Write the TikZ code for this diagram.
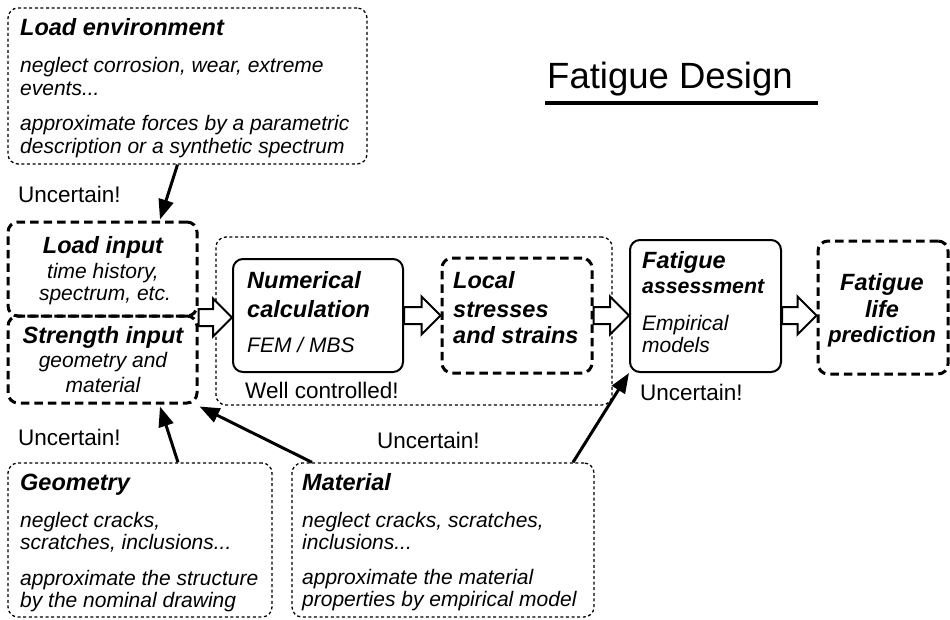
\documentclass[tikz,border=0pt]{standalone}
\usepackage{fontspec}
\setmainfont{Liberation Sans}
\usetikzlibrary{arrows.meta,calc}
\newcommand\harrow[2]{%
  \draw[harr] let \p1=#1, \p2=#2 in
    (\x1,\y1+8.5pt) -- (\x2-19pt,\y1+8.5pt) -- (\x2-19pt,\y1+19pt) -- (\x2,\y1)
    -- (\x2-19pt,\y1-19pt) -- (\x2-19pt,\y1-8.5pt) -- (\x1,\y1-8.5pt) -- cycle;}
\begin{document}
\begin{tikzpicture}[x=1pt,y=-1pt,
  dotbox/.style={draw, line width=1.3pt, dash pattern=on 3pt off 2.6pt, rounded corners=10pt, inner sep=0, rectangle},
  dashbox/.style={draw, line width=3pt, dash pattern=on 8.5pt off 5pt, rounded corners=10pt, inner sep=0, rectangle},
  solbox/.style={draw, line width=2pt, rounded corners=10pt, inner sep=0, rectangle},
  ttl/.style={font=\fontsize{23.5}{28}\selectfont\bfseries\itshape, inner sep=0, anchor=base west},
  ttlc/.style={ttl, anchor=base},
  bod/.style={font=\fontsize{21}{25}\selectfont\itshape, inner sep=0, anchor=base west},
  bodc/.style={bod, anchor=base},
  lab/.style={font=\fontsize{22.5}{27}\selectfont, inner sep=0, anchor=base west},
  harr/.style={draw, line width=2pt, fill=white, line join=miter},
  thinarr/.style={line width=3pt, -{Triangle[length=20pt,width=15pt]}, shorten >=0pt}
]
\useasboundingbox (0,0) rectangle (950,619);

% title
\node[font=\fontsize{36.5}{40}\selectfont, inner sep=0, anchor=base west] (title) at (547,88) {Fatigue Design};
\draw[line width=4pt] ([xshift=-2pt,yshift=-15pt]title.base west) -- ++(273,0);

% boxes
\node[dotbox, minimum width=359pt, minimum height=156pt] (env) at (187.5,86) {};
\node[dashbox, minimum width=189pt, minimum height=94pt] (input) at (102.5,269) {};
\node[dashbox, minimum width=189pt, minimum height=87pt] (strength) at (102.5,359.5) {};
\node[dotbox, minimum width=396pt, minimum height=168pt] (well) at (414,321) {};
\node[solbox, minimum width=170pt, minimum height=113pt] (num) at (318,315.5) {};
\node[dashbox, minimum width=150pt, minimum height=115pt] (local) at (517,315.5) {};
\node[solbox, minimum width=151pt, minimum height=132pt] (assess) at (705.5,306) {};
\node[dashbox, minimum width=130pt, minimum height=133pt] (life) at (883,307.5) {};
\node[dotbox, minimum width=264pt, minimum height=154pt] (geo) at (140,540) {};
\node[dotbox, minimum width=302pt, minimum height=154pt] (mat) at (443,540) {};

% load environment texts
\node[ttl] (e0) at (20,35) {Load environment};
\node[bod] (e1) at (20,72) {neglect corrosion, wear, extreme};
\node[bod] (e2) at (20,95) {events...};
\node[bod] (e3) at (20,130) {approximate forces by a parametric};
\node[bod] (e4) at (20,153) {description or a synthetic spectrum};
\node[lab] (u1) at (18,202) {Uncertain!};

% input texts
\node[ttlc] (i0) at (103,253) {Load input};
\node[bodc] (i1) at (103,278) {time history,};
\node[bodc] (i2) at (105,300) {spectrum, etc.};
\node[ttlc] (s0) at (103,343) {Strength input};
\node[bodc] (s1) at (103,367) {geometry and};
\node[bodc] (s2) at (103,392) {material};
\node[lab] (u2) at (18,445) {Uncertain!};

% numerical
\node[ttl] (n0) at (247,288) {Numerical};
\node[ttl] (n1) at (247,317) {calculation};
\node[bod] (n2) at (247,352) {FEM / MBS};
\node[lab] (wc) at (245,398) {Well controlled!};

% local
\node[ttl] (l0) at (453,288) {Local};
\node[ttl] (l1) at (453,317) {stresses};
\node[ttl] (l2) at (453,343) {and strains};

% assessment
\node[ttl] (a0) at (642,268) {Fatigue};
\node[ttl, font=\fontsize{21.3}{25}\selectfont\bfseries\itshape] (a1) at (642,293) {assessment};
\node[bod] (a2) at (642,330) {Empirical};
\node[bod] (a3) at (642,352) {models};
\node[lab] (u3) at (640,400) {Uncertain!};

% life
\node[ttlc] (f0) at (882,290) {Fatigue};
\node[ttlc] (f1) at (882,317) {life};
\node[ttlc, font=\fontsize{22.3}{26}\selectfont\bfseries\itshape] (f2) at (882,342) {prediction};

% geometry
\node[ttl] (g0) at (20,490) {Geometry};
\node[bod] (g1) at (20,527) {neglect cracks,};
\node[bod] (g2) at (20,549) {scratches, inclusions...};
\node[bod] (g3) at (20,585) {approximate the structure};
\node[bod] (g4) at (20,607) {by the nominal drawing};

% material
\node[ttl] (m0) at (302,490) {Material};
\node[bod] (m1) at (302,527) {neglect cracks, scratches,};
\node[bod] (m2) at (302,549) {inclusions...};
\node[bod] (m3) at (302,584) {approximate the material};
\node[bod] (m4) at (302,606) {properties by empirical model};
\node[lab] (u4) at (377,448) {Uncertain!};

% hollow arrows
\harrow{(input.south east)}{(num.west)}
\harrow{(num.east)}{(local.west)}
\harrow{(local.east)}{(assess.west)}
\harrow{(assess.east |- local.east)}{(life.west)}

% thin arrows
\draw[thinarr] ([xshift=-10pt]env.south) -- ([xshift=57.5pt,yshift=1pt]input.north);
\draw[thinarr] ([xshift=38pt]geo.north) -- ([xshift=57.5pt,yshift=-2pt]strength.south);
\draw[thinarr] ([xshift=-131pt]mat.north) -- ([shift={(1,2)}]strength.south east);
\draw[thinarr] ([xshift=130pt]mat.north) -- ([shift={(0,0)}]assess.south west);
\end{tikzpicture}
\end{document}
